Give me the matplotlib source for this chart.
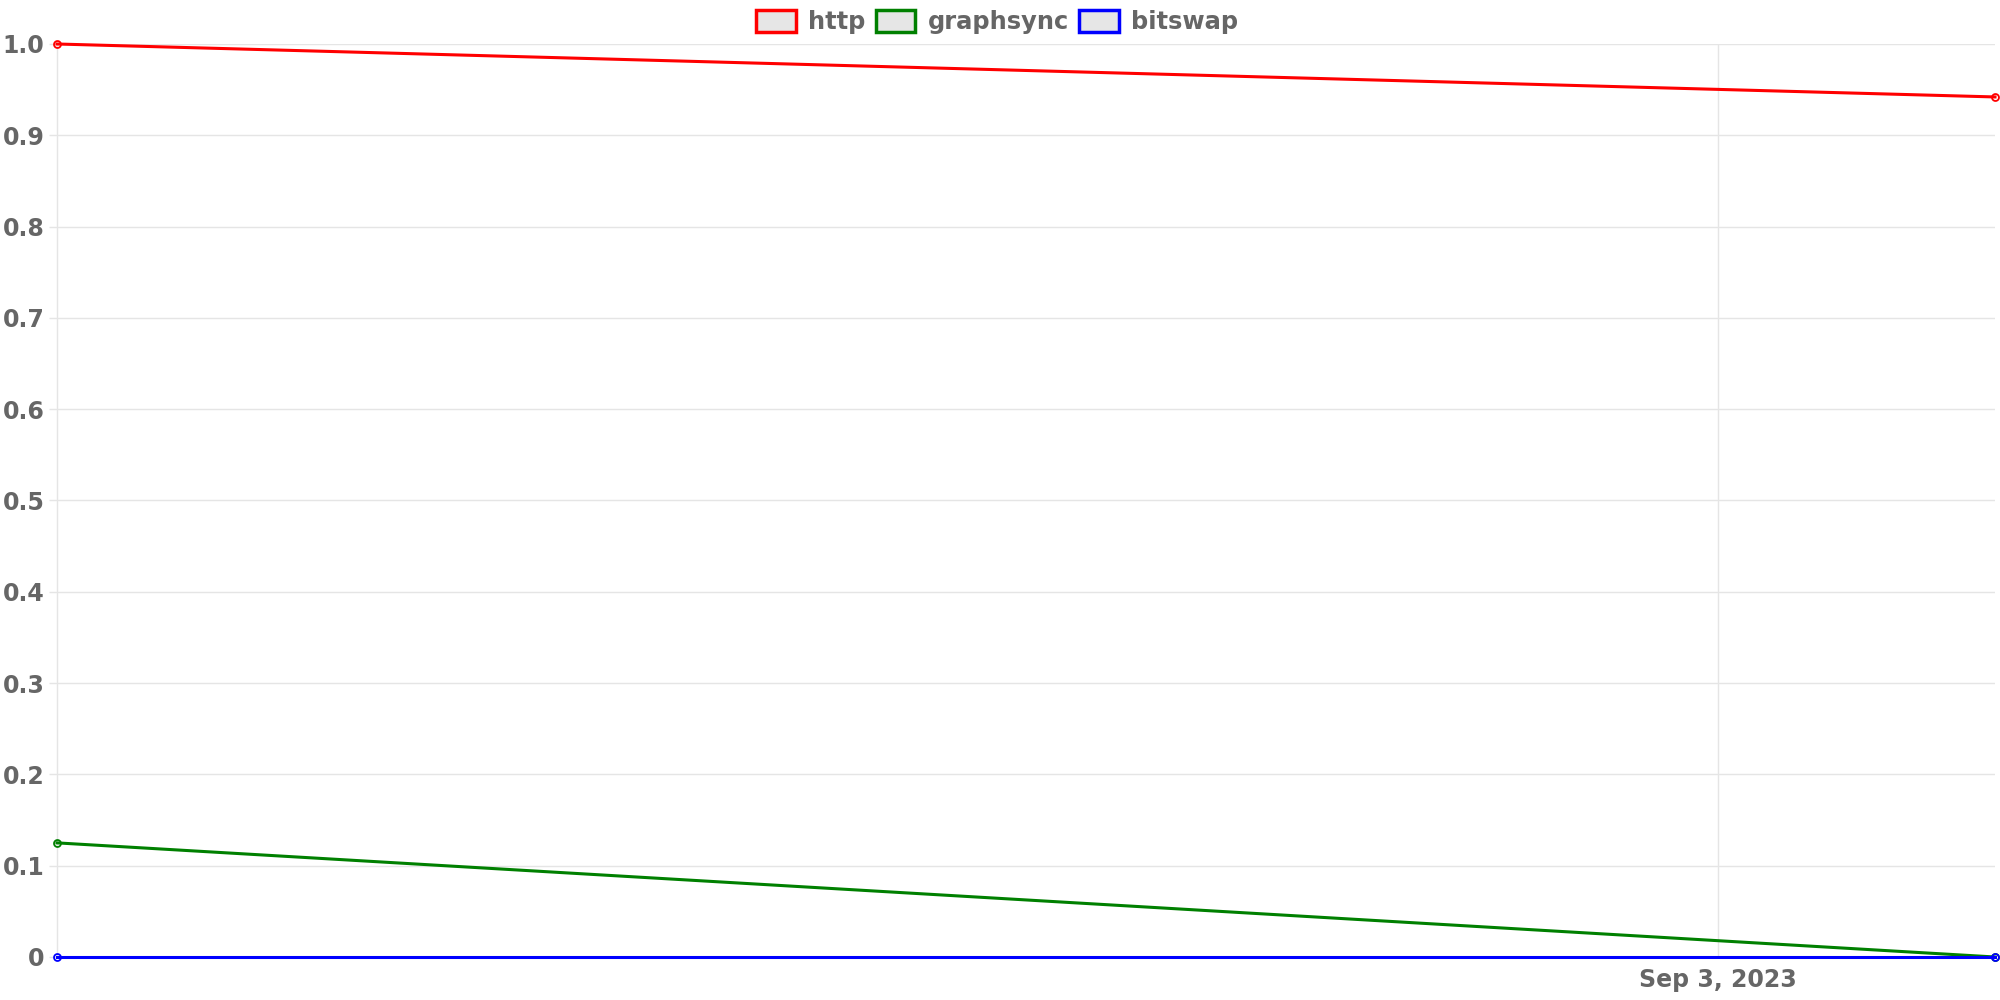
import matplotlib
matplotlib.use("Agg")
import matplotlib.pyplot as plt
import matplotlib.dates as mdates
from matplotlib.patches import Rectangle
import datetime as dt

dates = [dt.datetime(2023, 8, 28), dt.datetime(2023, 9, 4)]
series_names = ["http", "graphsync", "bitswap"]
http = [1.0, 0.942]
graphsync = [0.125, 0.0]
bitswap = [0.0, 0.0]
colors = ["red", "green", "blue"]
y_ticks = [0, 0.1, 0.2, 0.3, 0.4, 0.5, 0.6, 0.7, 0.8, 0.9, 1.0]
y_tick_labels = ["0", "0.1", "0.2", "0.3", "0.4", "0.5", "0.6", "0.7", "0.8", "0.9", "1.0"]
x_tick_dates = [dt.datetime(2023, 9, 3)]
x_tick_labels = ["Sep 3, 2023"]

plt.rcParams['font.family'] = ['DejaVu Sans']
fig = plt.figure(figsize=(20, 10), dpi=100)
ax = fig.add_axes([0.0285, 0.043, 0.969, 0.913])

grid_c = "#e5e5e5"
text_c = "#666666"

for name, vals, c in zip(series_names, [http, graphsync, bitswap], colors):
    ax.plot(dates, vals, color=c, lw=2.2, marker="o", markersize=5,
            markerfacecolor="none", markeredgecolor=c, markeredgewidth=1.3,
            clip_on=False, zorder=3)

ax.set_xlim(dates[0], dates[-1])
ax.set_ylim(0, 1.0)
ax.set_yticks(y_ticks)
ax.set_yticklabels(y_tick_labels)
ax.set_xticks(mdates.date2num(x_tick_dates))
ax.set_xticklabels(x_tick_labels)

ax.grid(True, color=grid_c, lw=1)
ax.set_axisbelow(True)
for s in ["top", "right", "bottom"]:
    ax.spines[s].set_visible(False)
ax.spines["left"].set_color(grid_c)
ax.spines["left"].set_linewidth(1)

ax.tick_params(axis="y", length=6, width=1, color=grid_c, pad=3,
               labelsize=17, labelcolor=text_c)
ax.tick_params(axis="x", length=0, pad=8, labelsize=17, labelcolor=text_c)
for lab in ax.get_xticklabels() + ax.get_yticklabels():
    lab.set_fontweight("bold")

handles = [Rectangle((0, 0), 1, 1, facecolor="#e6e6e6", edgecolor=c, lw=2.5)
           for c in colors]
leg = fig.legend(handles, series_names, loc="center",
                 bbox_to_anchor=(0.4985, 0.978), ncol=3, frameon=False,
                 handlelength=1.65, handleheight=1.05, handletextpad=0.5,
                 columnspacing=0.42, borderpad=0.0,
                 prop={"size": 17.4, "weight": "bold"})
for t in leg.get_texts():
    t.set_color(text_c)

fig.savefig("out.png", dpi=100, facecolor="white")
